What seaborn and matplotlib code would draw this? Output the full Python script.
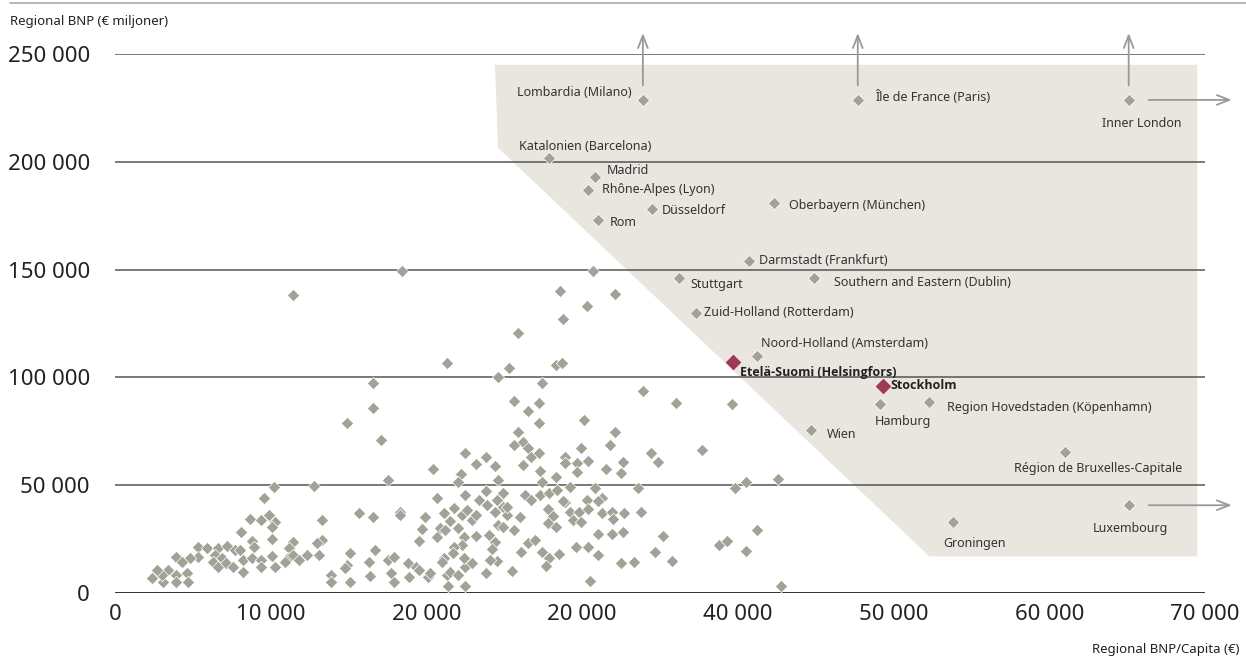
import matplotlib
matplotlib.use('Agg')
import numpy as np
import pandas as pd
import matplotlib.pyplot as plt
import seaborn as sns
from matplotlib.patches import Polygon
from matplotlib.lines import Line2D

sns.set_style('white')
plt.rcParams['font.family'] = ['Noto Sans', 'DejaVu Sans']

# Regioner med namn (BNP/capita i tusen €, BNP i tusen M€)
namn = ['Lombardia (Milano)', 'Île de France (Paris)', 'Inner London',
        'Katalonien (Barcelona)', 'Madrid', 'Rhône-Alpes (Lyon)', 'Düsseldorf',
        'Rom', 'Oberbayern (München)', 'Darmstadt (Frankfurt)', 'Stuttgart',
        'Southern and Eastern (Dublin)', 'Zuid-Holland (Rotterdam)',
        'Noord-Holland (Amsterdam)', 'Etelä-Suomi (Helsingfors)', 'Stockholm',
        'Hamburg', 'Region Hovedstaden (Köpenhamn)', 'Wien',
        'Région de Bruxelles-Capitale', 'Groningen', 'Luxembourg']
namn_x = [33.9, 47.7, 65.1, 27.9, 30.8, 30.4, 34.5, 31.0, 42.3, 40.7, 36.2,
          44.9, 37.3, 41.2, 39.7, 49.3, 49.1, 52.3, 44.7, 61.0, 53.8, 65.1]
namn_y = [228.7, 228.7, 228.7, 201.9, 193, 187, 178, 173, 181, 154, 146,
          146, 130, 110, 107, 96, 87.5, 88.4, 75.5, 65.3, 32.9, 40.7]
markerade = ['Etelä-Suomi (Helsingfors)', 'Stockholm']

# Övriga regioner
ovr_x = [11.4, 14.9, 18.4, 28.6, 28.8, 25.9, 21.3, 25.3, 24.6, 28.3, 28.7, 16.6,
         27.4, 16.6, 25.6, 27.2, 26.5, 27.2, 25.9, 17.1, 26.2, 30.7, 32.1, 30.3,
         33.9, 36.0, 39.6, 30.1, 32.1, 29.9, 31.8, 28.9, 29.7, 30.4, 29.7, 31.5,
         32.6, 32.5, 34.4, 34.9, 37.7, 29.2, 30.8, 33.6, 39.8, 40.5, 42.6, 28.9,
         30.3, 31.3, 31.0, 29.2, 29.8, 30.4, 29.4, 29.9, 31.3, 31.9, 32.7, 32.0,
         33.8, 31.0, 31.9, 32.6, 35.2, 29.6, 30.4, 31.0, 32.5, 33.3, 34.7, 35.8,
         38.8, 39.3, 40.5, 41.2, 30.5, 42.8, 10.2, 12.8, 9.6, 8.7, 9.4, 9.9,
         10.3, 10.1, 13.3, 8.1, 8.8, 8.9, 10.1, 11.4, 11.2, 13.3, 13.0, 13.1,
         3.9, 5.3, 5.3, 4.8, 4.3, 5.9, 6.6, 6.4, 6.3, 6.6, 7.2, 7.7, 8.0, 6.9,
         7.1, 7.6, 8.2, 8.2, 8.8, 9.4, 9.4, 10.3, 10.1, 11.1, 11.4, 11.8, 12.3,
         10.9, 4.6, 4.7, 3.9, 3.9, 3.4, 3.1, 3.0, 2.7, 2.4, 13.9, 13.9, 20.4,
         17.5, 22.5, 23.2, 23.8, 24.4, 22.2, 22.0, 24.6, 25.6, 26.5, 26.7, 27.2,
         26.2, 27.3, 28.3, 27.4, 28.9, 20.7, 22.5, 23.4, 23.8, 23.9, 24.5, 24.9,
         24.9, 26.3, 26.7, 27.3, 27.9, 28.4, 28.8, 15.7, 16.6, 18.3, 18.3, 19.9,
         19.7, 19.5, 21.1, 21.8, 22.3, 22.6, 22.9, 23.2, 21.5, 20.9, 21.2, 20.7,
         22.0, 22.4, 22.3, 21.8, 21.7, 23.2, 24.0, 24.4, 24.4, 24.6, 24.9, 25.2,
         25.2, 25.6, 26.0, 27.8, 28.1, 27.8, 28.3, 24.2, 24.5, 24.1, 26.1, 26.5,
         27.0, 27.4, 27.9, 28.5, 27.7, 25.5, 23.8, 15.1, 14.9, 14.8, 15.1, 16.3,
         16.7, 16.4, 17.5, 17.9, 17.7, 17.9, 18.8, 19.3, 19.5, 18.9, 20.1, 20.2,
         21.1, 21.0, 21.3, 21.5, 22.0, 22.5, 22.9, 22.4, 21.4, 22.5]
ovr_y = [138, 78.7, 149.5, 140.3, 127.3, 120.8, 106.5, 104.2, 100, 105.6, 106.5,
         97.2, 97.2, 85.6, 88.9, 88, 84.3, 78.7, 74.5, 70.8, 70, 149.5, 138.9,
         133.3, 93.5, 88, 87.5, 80.1, 74.5, 67.1, 68.5, 63, 60.2, 61.1, 56, 57.4,
         60.6, 55.6, 64.8, 60.6, 66.2, 49.1, 48.6, 48.6, 48.6, 51.4, 52.8, 42.1,
         43.1, 44, 42.6, 37.5, 37.5, 38.9, 33.8, 32.9, 37, 37.5, 37, 34.3, 37.5,
         27.3, 27.3, 28.2, 26.4, 21.3, 21.3, 17.6, 13.9, 14.4, 19, 14.8, 22.2,
         24.1, 19.4, 29.2, 5.6, 3.2, 49.1, 49.5, 44, 34.3, 33.8, 36.1, 32.9,
         30.6, 33.8, 28.2, 24.1, 21.3, 25, 23.6, 20.8, 24.5, 23.1, 17.6, 16.7,
         21.3, 16.7, 16.2, 14.4, 20.8, 20.8, 17.6, 14.4, 12, 21.8, 19.9, 19.9,
         16.2, 13.9, 12, 15.3, 9.7, 16.2, 15.3, 12, 12, 17.1, 16.2, 17.6, 15.3,
         17.6, 14.4, 9.3, 5.1, 8.3, 5.1, 10.6, 5.1, 8.3, 10.6, 6.9, 8.3, 5.1,
         57.4, 52.3, 64.8, 59.7, 63, 58.8, 55.1, 51.4, 52.3, 68.5, 67.1, 63,
         64.8, 59.3, 56.5, 53.7, 51.4, 60.2, 44, 45.4, 43.1, 47.2, 40.7, 43.1,
         46.3, 39.8, 45.4, 43.1, 45.4, 46.3, 47.7, 42.6, 37, 35.2, 37.5, 36.1,
         35.2, 29.6, 24.1, 37, 39.4, 36.1, 38.4, 33.8, 36.1, 33.3, 30.1, 29.2,
         25.9, 30.1, 25.9, 22.2, 21.3, 18.5, 26.4, 26.9, 23.6, 37.5, 31.5, 30.6,
         36.1, 39.8, 29.2, 35.2, 38.9, 35.6, 32.4, 30.6, 20.4, 14.8, 15.3, 19,
         23.1, 24.5, 19, 16.2, 18.1, 12.5, 10.2, 9.3, 18.5, 13, 11.6, 5.1, 14.4,
         19.9, 7.9, 15.3, 16.7, 9.3, 5.1, 13.9, 12, 10.6, 7.4, 7.4, 9.3, 16.2,
         14.4, 8.3, 9.7, 8.3, 12, 13.9, 16.2, 3.2, 3.2]

x_ticks = [0, 10000, 20000, 30000, 40000, 50000, 60000, 70000]
x_ticklabels = ['0', '10 000', '20 000', '20 000', '40 000', '50 000', '60 000', '70 000']
y_ticks = [0, 50000, 100000, 150000, 200000, 250000]
y_ticklabels = ['0', '50 000', '100 000', '150 000', '200 000', '250 000']

df_namn = pd.DataFrame({'namn': namn, 'x': np.array(namn_x) * 1000, 'y': np.array(namn_y) * 1000})
df_namn['markerad'] = df_namn['namn'].isin(markerade)
df_ovr = pd.DataFrame({'x': np.array(ovr_x) * 1000, 'y': np.array(ovr_y) * 1000})

# etikettplacering (pixlar från punkten) och justering
etikett_pos = {
    'Lombardia (Milano)': (-11, 7, 'right'),
    'Île de France (Paris)': (17, 3, 'left'),
    'Inner London': (13, -24, 'center'),
    'Katalonien (Barcelona)': (36, 11, 'center'),
    'Madrid': (12, 6, 'left'),
    'Rhône-Alpes (Lyon)': (14, 0, 'left'),
    'Düsseldorf': (10, -1, 'left'),
    'Rom': (12, -2, 'left'),
    'Oberbayern (München)': (15, -3, 'left'),
    'Darmstadt (Frankfurt)': (10, 0, 'left'),
    'Stuttgart': (12, -6, 'left'),
    'Southern and Eastern (Dublin)': (20, -4, 'left'),
    'Zuid-Holland (Rotterdam)': (8, 0, 'left'),
    'Noord-Holland (Amsterdam)': (4, 12, 'left'),
    'Etelä-Suomi (Helsingfors)': (7, -10, 'left'),
    'Stockholm': (8, 1, 'left'),
    'Hamburg': (-5, -17, 'left'),
    'Region Hovedstaden (Köpenhamn)': (18, -5, 'left'),
    'Wien': (16, -4, 'left'),
    'Région de Bruxelles-Capitale': (33, -16, 'center'),
    'Groningen': (-9, -21, 'left'),
    'Luxembourg': (2, -23, 'center'),
}

grey = '#a0a497'
red = '#9e3a55'

fig = plt.figure(figsize=(12.46, 6.6), dpi=100)
ax = fig.add_axes([115 / 1246, 67 / 660, 1090 / 1246, 539 / 660])
ax.set_xlim(0, 70000)
ax.set_ylim(0, 250000)

# skuggat område
poly = Polygon([(24400, 245000), (69500, 245000), (69500, 17000), (52300, 17000), (24600, 206500)],
               closed=True, facecolor='#e9e5df', edgecolor='none', zorder=0)
ax.add_patch(poly)

for yt in y_ticks:
    ax.axhline(yt, color='#222222' if yt == 0 else '#555555', lw=1.3 if yt == 0 else 1.1, zorder=1)

sns.scatterplot(data=df_ovr, x='x', y='y', marker='D', s=40, color=grey,
                edgecolor='white', linewidth=0.5, ax=ax, zorder=3, legend=False)
sns.scatterplot(data=df_namn[~df_namn['markerad']], x='x', y='y', marker='D', s=40, color=grey,
                edgecolor='white', linewidth=0.5, ax=ax, zorder=3, legend=False)
sns.scatterplot(data=df_namn[df_namn['markerad']], x='x', y='y', marker='D', s=75, color=red,
                edgecolor='white', linewidth=0.5, ax=ax, zorder=4, legend=False)

for _, r in df_namn.iterrows():
    dx, dy, ha = etikett_pos[r['namn']]
    if r['markerad']:
        stil = dict(fontweight='bold', family=['Open Sans', 'DejaVu Sans'], color='#222222')
    else:
        stil = dict(color='#333333')
    ax.annotate(r['namn'], (r['x'], r['y']), xytext=(dx, dy), textcoords='offset pixels',
                ha=ha, va='center', fontsize=9, zorder=5, **stil)

# pilar för värden utanför skalan
pil = dict(arrowstyle='->,head_length=0.9,head_width=0.35', color='#999999', lw=1.3)
for n in ['Lombardia (Milano)', 'Île de France (Paris)', 'Inner London']:
    r = df_namn[df_namn['namn'] == n].iloc[0]
    ax.annotate('', xy=(r['x'], 261000), xytext=(r['x'], r['y'] + 5500),
                arrowprops=pil, annotation_clip=False)
for n in ['Inner London', 'Luxembourg']:
    r = df_namn[df_namn['namn'] == n].iloc[0]
    ax.annotate('', xy=(71900, r['y']), xytext=(r['x'] + 1100, r['y']),
                arrowprops=pil, annotation_clip=False)

ax.set_xticks(x_ticks)
ax.set_xticklabels(x_ticklabels, fontsize=16, color='#222222')
ax.set_yticks(y_ticks)
ax.set_yticklabels(y_ticklabels, fontsize=16, color='#222222')
ax.tick_params(axis='both', length=0)
ax.tick_params(axis='x', pad=8)
ax.tick_params(axis='y', pad=18)
ax.set_xlabel('')
ax.set_ylabel('')
sns.despine(ax=ax, left=True, bottom=True)

fig.text(10 / 1246, 1 - 22 / 660, 'Regional BNP (€ miljoner)', fontsize=9.5, va='center', color='#222222')
fig.text(1240 / 1246, 1 - 649 / 660, 'Regional BNP/Capita (€)', fontsize=9.5, va='center', ha='right',
         color='#222222')
fig.add_artist(Line2D([10 / 1246, 1], [1 - 3 / 660, 1 - 3 / 660], color='#aaaaaa', lw=1.2,
                      transform=fig.transFigure))

fig.savefig('out.png', dpi=100)
